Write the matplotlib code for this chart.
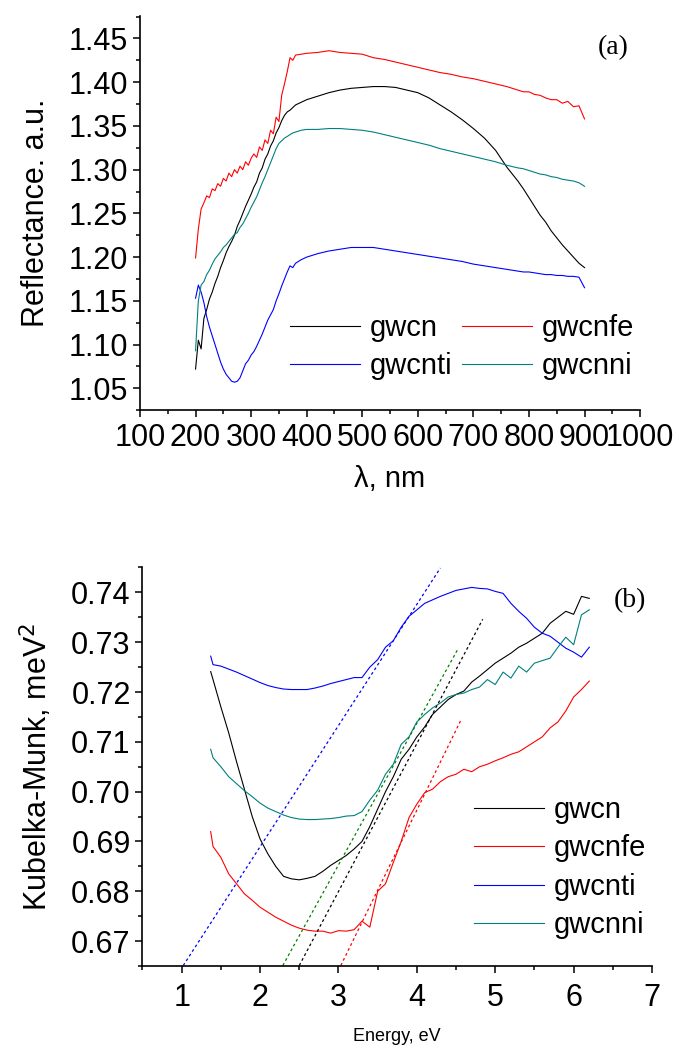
import matplotlib
matplotlib.use("Agg")
import matplotlib.pyplot as plt
from matplotlib.ticker import MultipleLocator, FormatStrFormatter

plt.rcParams['font.family'] = ['Liberation Sans', 'DejaVu Sans']

# ---- (a) reflectance vs wavelength ----
wl = [200, 205, 210, 215, 220, 225, 230, 235, 240, 245, 250, 255, 260, 265, 270,
      275, 280, 285, 290, 295, 300, 305, 310, 315, 320, 325, 330, 335, 340, 345,
      350, 355, 360, 365, 370, 375, 380, 390, 400, 420, 440, 460, 480, 500, 520,
      540, 560, 580, 600, 620, 640, 660, 680, 700, 720, 740, 760, 780, 790, 800,
      810, 820, 830, 840, 850, 860, 870, 880, 890, 900]

r_gwcn = [1.072, 1.105, 1.095, 1.130, 1.140, 1.152, 1.160, 1.170, 1.178, 1.188,
          1.196, 1.205, 1.212, 1.218, 1.225, 1.235, 1.242, 1.250, 1.258, 1.265,
          1.272, 1.280, 1.286, 1.296, 1.302, 1.312, 1.318, 1.327, 1.333, 1.342,
          1.348, 1.356, 1.362, 1.366, 1.368, 1.371, 1.374, 1.377, 1.380, 1.384,
          1.388, 1.391, 1.393, 1.394, 1.395, 1.395, 1.394, 1.391, 1.388, 1.382,
          1.374, 1.366, 1.357, 1.347, 1.336, 1.322, 1.303, 1.287, 1.278, 1.268,
          1.258, 1.248, 1.240, 1.230, 1.222, 1.214, 1.207, 1.200, 1.193, 1.188]

r_gwcnfe = [1.199, 1.232, 1.255, 1.262, 1.270, 1.268, 1.278, 1.276, 1.284, 1.281,
            1.290, 1.287, 1.296, 1.292, 1.300, 1.296, 1.304, 1.300, 1.309, 1.305,
            1.313, 1.318, 1.314, 1.326, 1.322, 1.334, 1.330, 1.345, 1.341, 1.360,
            1.355, 1.385, 1.398, 1.412, 1.428, 1.425, 1.431, 1.432, 1.433, 1.434,
            1.436, 1.434, 1.433, 1.432, 1.428, 1.426, 1.423, 1.420, 1.417, 1.414,
            1.411, 1.409, 1.406, 1.404, 1.401, 1.398, 1.395, 1.391, 1.389, 1.389,
            1.386, 1.385, 1.382, 1.380, 1.380, 1.376, 1.378, 1.372, 1.373, 1.358]

r_gwcnti = [1.153, 1.168, 1.160, 1.148, 1.132, 1.120, 1.110, 1.100, 1.090, 1.080,
            1.072, 1.066, 1.062, 1.058, 1.057, 1.058, 1.062, 1.070, 1.078, 1.082,
            1.088, 1.092, 1.098, 1.105, 1.112, 1.120, 1.128, 1.134, 1.140, 1.150,
            1.158, 1.167, 1.175, 1.183, 1.190, 1.188, 1.193, 1.197, 1.200, 1.204,
            1.207, 1.209, 1.211, 1.211, 1.211, 1.209, 1.207, 1.205, 1.203, 1.201,
            1.199, 1.197, 1.195, 1.192, 1.190, 1.188, 1.186, 1.184, 1.183, 1.183,
            1.182, 1.181, 1.180, 1.180, 1.179, 1.179, 1.178, 1.178, 1.177, 1.165]

r_gwcnni = [1.093, 1.150, 1.168, 1.172, 1.180, 1.185, 1.192, 1.198, 1.202, 1.206,
            1.211, 1.214, 1.218, 1.222, 1.226, 1.228, 1.234, 1.238, 1.244, 1.250,
            1.257, 1.263, 1.269, 1.277, 1.285, 1.292, 1.300, 1.308, 1.316, 1.324,
            1.330, 1.333, 1.336, 1.338, 1.340, 1.342, 1.343, 1.345, 1.346, 1.346,
            1.347, 1.347, 1.346, 1.345, 1.343, 1.340, 1.337, 1.334, 1.331, 1.328,
            1.324, 1.321, 1.318, 1.315, 1.312, 1.309, 1.305, 1.302, 1.301, 1.299,
            1.297, 1.295, 1.294, 1.292, 1.291, 1.289, 1.288, 1.287, 1.285, 1.281]

# ---- (b) Kubelka-Munk vs energy ----
energy = [1.37, 1.4, 1.5, 1.6, 1.7, 1.8, 1.9, 2.0, 2.1, 2.2, 2.3, 2.4, 2.5, 2.6,
          2.7, 2.8, 2.9, 3.0, 3.1, 3.2, 3.3, 3.4, 3.5, 3.6, 3.7, 3.8, 3.9, 4.0,
          4.1, 4.2, 4.3, 4.4, 4.5, 4.6, 4.7, 4.8, 4.9, 5.0, 5.1, 5.2, 5.3, 5.4,
          5.5, 5.6, 5.7, 5.8, 5.9, 6.0, 6.1, 6.2]

km_gwcn = [0.7241, 0.7225, 0.7170, 0.7118, 0.7060, 0.7005, 0.6950, 0.6905, 0.6875,
           0.6850, 0.6830, 0.6825, 0.6823, 0.6826, 0.6830, 0.6840, 0.6852, 0.6862,
           0.6872, 0.6885, 0.6900, 0.6930, 0.6965, 0.7000, 0.7030, 0.7065, 0.7085,
           0.7110, 0.7130, 0.7155, 0.7170, 0.7185, 0.7195, 0.7202, 0.7220, 0.7232,
           0.7245, 0.7258, 0.7268, 0.7278, 0.7290, 0.7298, 0.7308, 0.7318, 0.7338,
           0.7350, 0.7362, 0.7356, 0.7392, 0.7388]

km_gwcnfe = [0.6920, 0.6890, 0.6868, 0.6835, 0.6815, 0.6795, 0.6782, 0.6768, 0.6758,
             0.6748, 0.6740, 0.6732, 0.6726, 0.6722, 0.6720, 0.6720, 0.6716, 0.6721,
             0.6720, 0.6723, 0.6740, 0.6728, 0.6800, 0.6815, 0.6858, 0.6900, 0.6948,
             0.6975, 0.6998, 0.7005, 0.7020, 0.7030, 0.7035, 0.7045, 0.7040, 0.7050,
             0.7055, 0.7062, 0.7068, 0.7075, 0.7080, 0.7090, 0.7100, 0.7110, 0.7128,
             0.7140, 0.7162, 0.7190, 0.7205, 0.7222]

km_gwcnti = [0.7272, 0.7255, 0.7252, 0.7246, 0.7240, 0.7233, 0.7226, 0.7219, 0.7213,
             0.7209, 0.7206, 0.7205, 0.7205, 0.7205, 0.7208, 0.7212, 0.7217, 0.7221,
             0.7225, 0.7229, 0.7229, 0.7250, 0.7265, 0.7290, 0.7303, 0.7330, 0.7352,
             0.7365, 0.7378, 0.7385, 0.7392, 0.7398, 0.7404, 0.7407, 0.7410, 0.7408,
             0.7407, 0.7402, 0.7398, 0.7378, 0.7362, 0.7348, 0.7330, 0.7318, 0.7312,
             0.7300, 0.7288, 0.7280, 0.7270, 0.7290]

km_gwcnni = [0.7085, 0.7068, 0.7050, 0.7030, 0.7016, 0.7002, 0.6990, 0.6977, 0.6967,
             0.6960, 0.6953, 0.6948, 0.6945, 0.6944, 0.6944, 0.6945, 0.6946, 0.6948,
             0.6951, 0.6952, 0.6960, 0.6983, 0.7003, 0.7035, 0.7055, 0.7095, 0.7110,
             0.7140, 0.7155, 0.7168, 0.7178, 0.7190, 0.7195, 0.7198, 0.7205, 0.7210,
             0.7225, 0.7215, 0.7240, 0.7228, 0.7252, 0.7240, 0.7258, 0.7263, 0.7268,
             0.7290, 0.7310, 0.7295, 0.7355, 0.7365]

# tangent (band gap) lines: [E_start, E_end], [KM_start, KM_end]
fit_ti = ([1.02, 4.30], [0.6651, 0.7449])
fit_ni = ([2.29, 4.53], [0.6651, 0.7288])
fit_cn = ([2.50, 4.84], [0.6651, 0.7346])
fit_fe = ([3.03, 4.56], [0.6651, 0.7143])

labels = ['gwcn', 'gwcnfe', 'gwcnti', 'gwcnni']
colors = ['#000000', '#ff0000', '#0000ff', '#008080']


def style_axis(ax):
    for side in ['top', 'right']:
        ax.spines[side].set_visible(False)
    for side in ['left', 'bottom']:
        ax.spines[side].set_linewidth(1.2)
    ax.tick_params(which='major', direction='out', length=5, width=1.1, labelsize=22)
    ax.tick_params(which='minor', direction='out', length=3, width=1.1)


fig = plt.figure(figsize=(6.74, 10.49), dpi=100)

# panel (a)
ax1 = fig.add_axes([0.2077, 0.609, 0.742, 0.3756])
top_series = [r_gwcn, r_gwcnfe, r_gwcnti, r_gwcnni]
lines = []
for vals, lab, col in zip(top_series, labels, colors):
    ln, = ax1.plot(wl, vals, color=col, lw=0.8, label=lab)
    lines.append(ln)
ax1.set_xlim(100, 1000)
ax1.set_ylim(1.025, 1.4755)
ax1.xaxis.set_major_locator(MultipleLocator(100))
ax1.xaxis.set_minor_locator(MultipleLocator(50))
ax1.yaxis.set_major_locator(MultipleLocator(0.05))
ax1.yaxis.set_minor_locator(MultipleLocator(0.025))
ax1.yaxis.set_major_formatter(FormatStrFormatter('%.2f'))
style_axis(ax1)
ax1.tick_params(axis='x', which='major', pad=4)
ax1.set_xlabel('λ, nm', fontsize=21, labelpad=9)
ax1.set_ylabel('Reflectance. a.u.', fontsize=22, labelpad=13)
ax1.text(0.946, 0.921, '(a)', transform=ax1.transAxes, ha='center', va='center',
         fontsize=20, family='Liberation Serif')
ax1.legend([lines[0], lines[2], lines[1], lines[3]],
           [labels[0], labels[2], labels[1], labels[3]],
           ncol=2, frameon=False, fontsize=21, loc='center',
           bbox_to_anchor=(0.644, 0.160), handlelength=2.4, handletextpad=0.34,
           columnspacing=0.3, labelspacing=0.36, borderpad=0.1)

# panel (b)
ax2 = fig.add_axes([0.2114, 0.0791, 0.756, 0.3804])
bottom_series = [km_gwcn, km_gwcnfe, km_gwcnti, km_gwcnni]
for vals, lab, col in zip(bottom_series, labels, colors):
    ax2.plot(energy, vals, color=col, lw=0.8, label=lab)
for (ex, ky), col in zip([fit_ti, fit_ni, fit_cn, fit_fe],
                         ['#0000ff', '#008000', '#000000', '#ff0000']):
    ax2.plot(ex, ky, color=col, lw=0.9, linestyle=(0, (2.2, 2.2)))
ax2.set_xlim(0.5, 7)
ax2.set_ylim(0.665, 0.7451)
ax2.xaxis.set_major_locator(MultipleLocator(1))
ax2.xaxis.set_minor_locator(MultipleLocator(0.5))
ax2.yaxis.set_major_locator(MultipleLocator(0.01))
ax2.yaxis.set_minor_locator(MultipleLocator(0.005))
ax2.yaxis.set_major_formatter(FormatStrFormatter('%.2f'))
style_axis(ax2)
ax2.tick_params(axis='x', which='major', pad=7)
ax2.set_xlabel('Energy, eV', fontsize=13, labelpad=11)
ax2.set_ylabel('Kubelka-Munk, meV$^2$', fontsize=22, labelpad=12)
ax2.text(0.957, 0.915, '(b)', transform=ax2.transAxes, ha='center', va='center',
         fontsize=20, family='Liberation Serif')
ax2.legend(frameon=False, fontsize=21, loc='center', bbox_to_anchor=(0.819, 0.247),
           handlelength=2.4, handletextpad=0.34, labelspacing=0.36, borderpad=0.1)

fig.savefig('out.png', dpi=100)
